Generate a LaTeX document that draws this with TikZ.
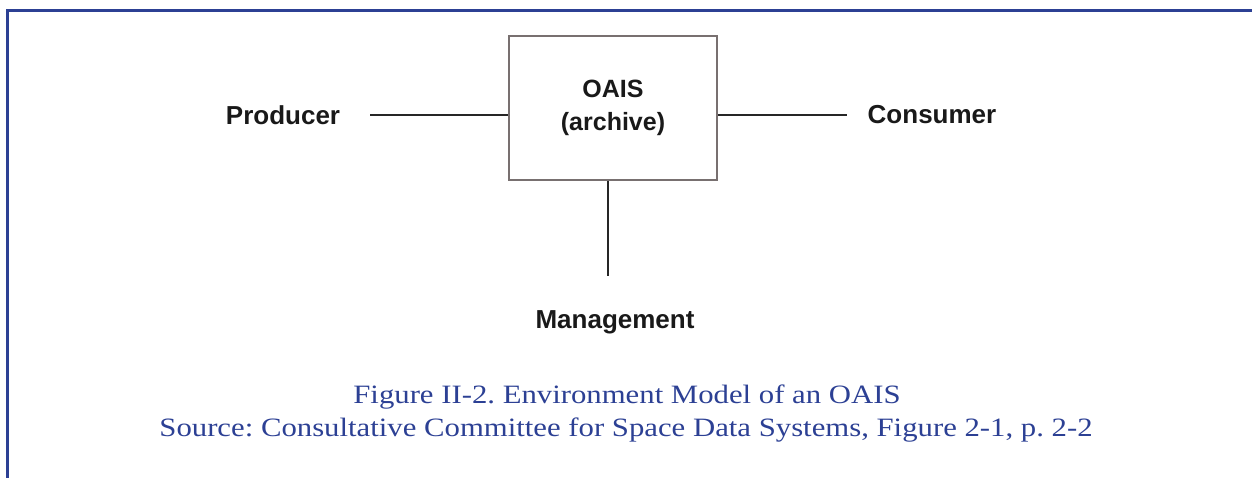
\documentclass[tikz,border=0pt]{standalone}
\usepackage{fontspec}
\setmainfont{Liberation Serif}
\newfontfamily\diagfont{Liberation Sans}
\definecolor{capblue}{RGB}{44,64,148}
\definecolor{boxgray}{RGB}{120,112,112}
\newcommand{\capline}[1]{\scalebox{1.16}[1]{#1}}
\begin{document}
\begin{tikzpicture}[x=1pt,y=-1pt,
  label/.style={font=\diagfont\bfseries\fontsize{26}{30}\selectfont, inner sep=0pt, text=black!90},
  wire/.style={line width=1.5pt, black!85},
  caption/.style={font=\frenchspacing\fontsize{26.5}{32}\selectfont, text=capblue, inner sep=0pt}]
  \useasboundingbox (0,0) rectangle (1252,478);
  % frame: top rule and left rule
  \draw[capblue, line width=3pt] (1252,11) -- (7,11) -- (7,478);
  % archive box
  \node[draw=boxgray, line width=2pt, minimum width=208pt, minimum height=144pt,
        label, align=center, font=\diagfont\bfseries\fontsize{25}{33}\selectfont]
        (oais) at (613,108) {OAIS\\(archive)};
  \node[label] (prod) at (283,115) {Producer};
  \node[label] (cons) at (932,115) {Consumer};
  \node[label] (mgmt) at (615,322) {Management};
  % connectors
  \draw[wire, shorten <=30pt] (prod.east) -- (prod.east -| oais.west);
  \draw[wire, shorten >=21pt] (oais.east |- cons.west) -- (cons.west);
  \draw[wire] ([xshift=-5pt]oais.south) -- ([xshift=-5pt,yshift=34pt]oais.south |- mgmt.north);
  % caption
  \node[caption] (cap1) at (627,397) {\capline{Figure II-2. Environment Model of an OAIS}};
  \node[caption] (cap2) at (626,430) {\capline{Source: Consultative Committee for Space Data Systems, Figure 2-1, p. 2-2}};
\end{tikzpicture}
\end{document}
